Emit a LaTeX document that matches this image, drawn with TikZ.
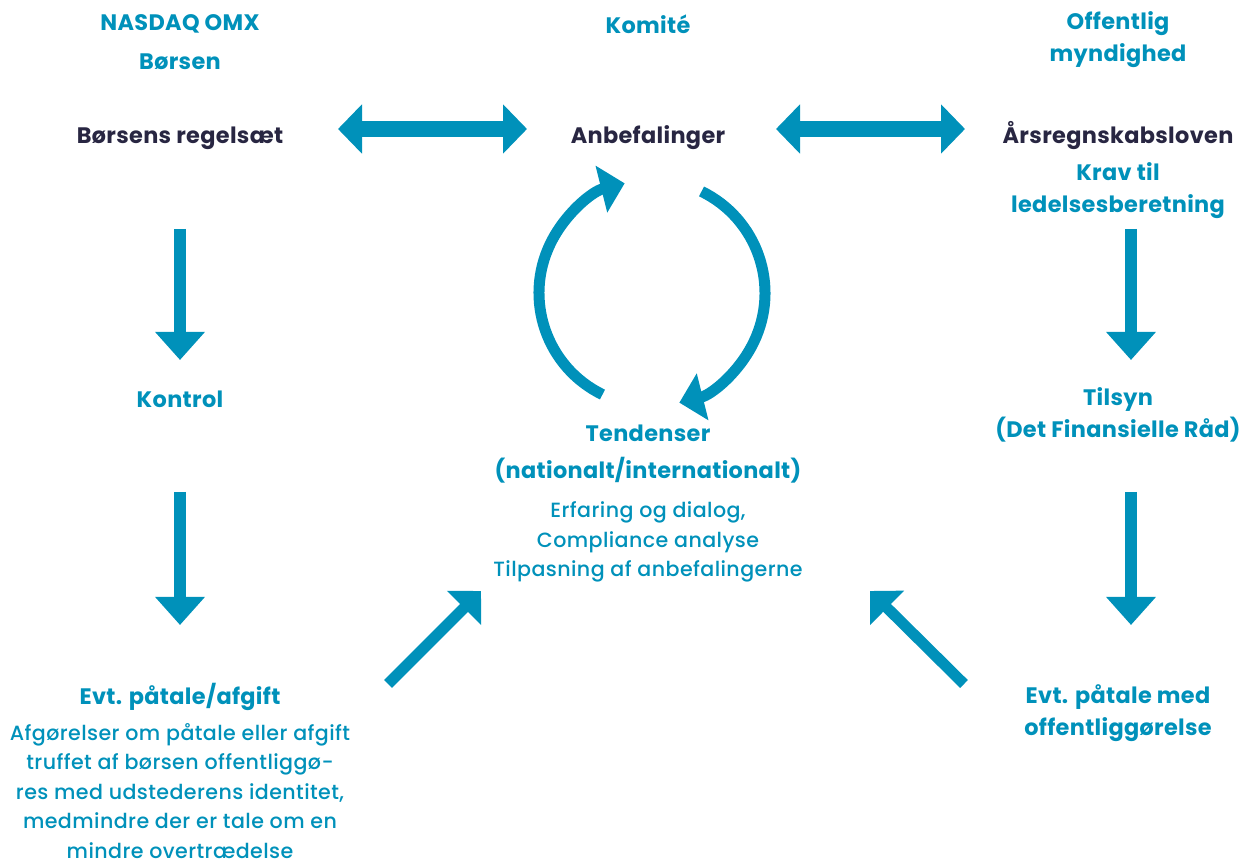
\documentclass[tikz,border=0pt]{standalone}
\usepackage{fontspec}
\setmainfont{Poppins}[UprightFont=* Medium, BoldFont=* Bold]
\usepackage{tikz}
\usetikzlibrary{arrows.meta}
\definecolor{dfteal}{RGB}{0,145,186}
\definecolor{dfnavy}{RGB}{40,38,66}

\begin{document}
\begin{tikzpicture}[
    x=0.5pt, y=-0.5pt,
    head/.style={font=\bfseries\fontsize{11.2}{16}\selectfont\addfontfeatures{LetterSpace=1.5}, text=dfteal, align=center, inner sep=0pt},
    rulebox/.style={font=\bfseries\fontsize{11.2}{16}\selectfont\addfontfeatures{LetterSpace=1.5}, text=dfnavy, align=center, inner sep=0pt},
    body/.style={font=\fontsize{10.3}{14.7}\selectfont\addfontfeatures{LetterSpace=2}, text=dfteal, align=center, inner sep=0pt},
    dbl/.style={{Triangle[length=12pt,width=24pt]}-{Triangle[length=12pt,width=24pt]}, line width=8pt, dfteal},
    down/.style={-{Triangle[length=14pt,width=24pt]}, line width=6pt, dfteal},
    slant/.style={-{Triangle[length=12pt,width=23.5pt]}, line width=5.5pt, dfteal},
    turn/.style={-{Triangle[length=12pt,width=23.5pt]}, line width=5.5pt, dfteal}
]
\useasboundingbox (0,0) rectangle (1254,860);

% top row
\node[head] (nasdaq) at (180,42) {NASDAQ OMX\\[3.5pt]Børsen};
\node[head] (komite) at (648,24) {Komité};
\node[head] (offentlig) at (1118,40) {Offentlig\\myndighed};

\node[rulebox] (regel) at (180,138) {Børsens regelsæt};
\node[rulebox] (anbef) at (648,138) {Anbefalinger};
\node[rulebox] (aarsregn) at (1118,136) {Årsregnskabsloven};
\node[head] (krav) at (1118,191) {Krav til\\ledelsesberetning};

% middle row
\node[head] (kontrol) at (180,399) {Kontrol};
\node[head] (tilsyn) at (1118,415) {Tilsyn\\(Det Finansielle Råd)};
\node[head] (tendens) at (648,454) {Tendenser\\[2.5pt](nationalt/internationalt)};
\node[body] (tendbody) at (648,542) {Erfaring og dialog,\\Compliance analyse\\Tilpasning af anbefalingerne};

% bottom row
\node[head] (paatale) at (180,697) {Evt. påtale/afgift};
\node[body] (paatbody) at (180,791) {Afgørelser om påtale eller afgift\\truffet af børsen offentliggø-\\res med udstederens identitet,\\medmindre der er tale om en\\mindre overtrædelse};
\node[head] (offpaat) at (1118,713) {Evt. påtale med\\offentliggørelse};

% arrow ends
\coordinate (dl1) at (338,129);
\coordinate (dl2) at (527,129);
\coordinate (dr1) at (776,129);
\coordinate (dr2) at (965,129);
\coordinate (vl1) at (180,229);
\coordinate (vl2) at (180,360);
\coordinate (vl3) at (180,492);
\coordinate (vl4) at (180,625);
\coordinate (vr1) at (1131,229);
\coordinate (vr2) at (1131,360);
\coordinate (vr3) at (1131,492);
\coordinate (vr4) at (1131,625);
\coordinate (sl1) at (388,684);
\coordinate (sl2) at (481,591);
\coordinate (sr1) at (964,684);
\coordinate (sr2) at (870,591);
\coordinate (hub) at (652,293);

\draw[dbl] (dl1) -- (dl2);
\draw[dbl] (dr1) -- (dr2);
\draw[down] (vl1) -- (vl2);
\draw[down] (vl3) -- (vl4);
\draw[down] (vr1) -- (vr2);
\draw[down] (vr3) -- (vr4);
\draw[slant] (sl1) -- (sl2);
\draw[slant] (sr1) -- (sr2);

% cycle round the recommendations
\draw[turn] (hub) ++(116:113) arc[start angle=116, end angle=256, radius=113];
\draw[turn] (hub) ++(-64:113) arc[start angle=-64, end angle=76, radius=113];

\end{tikzpicture}
\end{document}
